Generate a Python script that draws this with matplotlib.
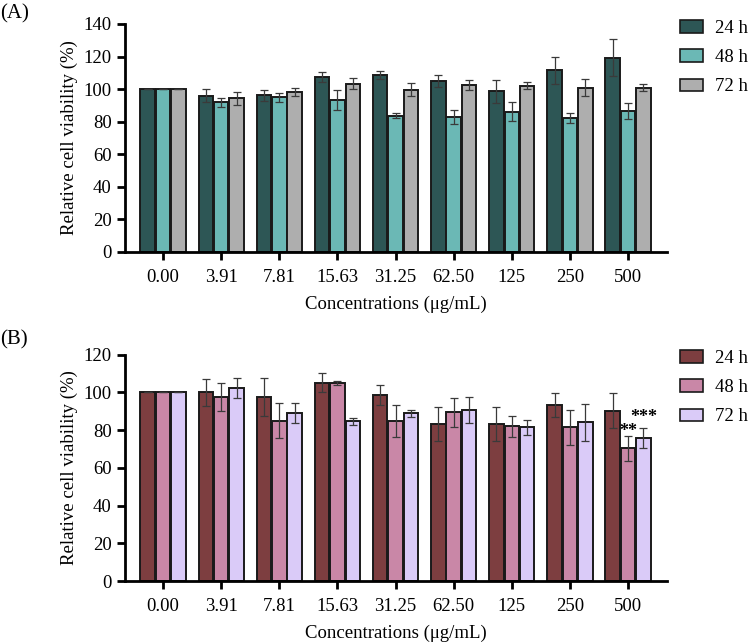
import matplotlib
matplotlib.use("Agg")
import matplotlib.pyplot as plt
import numpy as np
from matplotlib.patches import Patch

plt.rcParams['font.family'] = ['Liberation Serif', 'DejaVu Serif']

categories = ["0.00", "3.91", "7.81", "15.63", "31.25", "62.50", "125", "250", "500"]
series_names = ["24 h", "48 h", "72 h"]

# Panel A
a_24 = [100, 95.9, 96.3, 107.4, 108.7, 105.0, 98.6, 111.5, 119.2]
a_24_err = [0, 4.0, 3.3, 3.3, 2.5, 3.5, 6.9, 8.3, 11.3]
a_48 = [100, 92.0, 94.9, 93.2, 83.8, 83.1, 86.2, 82.5, 86.6]
a_48_err = [0, 2.7, 3.0, 6.3, 1.5, 4.4, 5.7, 3.0, 4.8]
a_72 = [100, 94.5, 98.0, 103.3, 99.6, 102.5, 102.1, 101.0, 101.0]
a_72_err = [0, 4.0, 2.5, 3.5, 4.0, 3.2, 2.3, 5.5, 2.3]

# Panel B
b_24 = [100, 100.0, 97.5, 105.1, 98.4, 83.5, 83.4, 93.5, 90.4]
b_24_err = [0, 7.0, 10.0, 5.0, 5.3, 9.0, 9.0, 6.4, 9.5]
b_48 = [100, 97.7, 85.0, 105.0, 84.8, 89.4, 82.0, 81.4, 70.4]
b_48_err = [0, 7.3, 9.2, 1.3, 8.6, 7.8, 5.5, 9.3, 6.7]
b_72 = [100, 102.1, 89.2, 84.6, 89.0, 90.8, 81.4, 84.1, 75.9]
b_72_err = [0, 5.3, 5.2, 2.0, 1.8, 6.8, 4.2, 10.0, 5.4]

colors_a = ["#2D5655", "#6BB8B5", "#AEAEAE"]
colors_b = ["#7D3E40", "#C987A7", "#DACBF8"]

# significance marks: (category index, series index, label, y)
sig_b = [(8, 1, "**", 79.5), (8, 2, "***", 86.5)]

W, H = 750, 642
fig = plt.figure(figsize=(W / 100, H / 100), dpi=100)

def make_panel(rect, vals, errs, colors, ymax, yticks, label, label_y, leg_y, sig=None):
    ax = fig.add_axes(rect)
    x = np.arange(len(categories))
    bw = 0.25
    offsets = [-bw - 0.015, 0, bw + 0.015]
    for i, (v, e, c) in enumerate(zip(vals, errs, colors)):
        ax.bar(x + offsets[i], v, width=bw, color=c, edgecolor="#1a1a1a", linewidth=1.4, zorder=2)
        ax.errorbar(x + offsets[i], v, yerr=e, fmt="none", ecolor="#3a3a3a",
                    elinewidth=0.9, capsize=3.2, capthick=0.9, zorder=3)
    ax.set_xlim(-0.655, 8.67)
    ax.set_ylim(0, ymax)
    ax.set_yticks(yticks)
    ax.set_xticks(x)
    ax.set_xticklabels(categories)
    for s in ["top", "right"]:
        ax.spines[s].set_visible(False)
    for s in ["left", "bottom"]:
        ax.spines[s].set_linewidth(2)
    ax.tick_params(axis="both", width=2, length=6, labelsize=13.5, direction="out")
    ax.tick_params(axis="x", pad=6)
    ax.set_ylabel("Relative cell viability (%)", fontsize=13.5, labelpad=4)
    ax.set_xlabel("Concentrations (\u03bcg/mL)", fontsize=13.5, labelpad=7)
    fig.text(0.0, label_y, label, fontsize=15, ha="left", va="center")
    handles = [Patch(facecolor=c, edgecolor="#1a1a1a", linewidth=1.2) for c in colors]
    ax.legend(handles, series_names, loc="upper left", bbox_to_anchor=(0.907, leg_y),
              bbox_transform=fig.transFigure, frameon=False, fontsize=13.5,
              handlelength=1.2, handleheight=0.65, handletextpad=0.65, labelspacing=0.65,
              borderaxespad=0, borderpad=0)
    if sig:
        for ci, si, txt, yv in sig:
            ax.text(ci + offsets[si], yv, txt, ha="center", va="center", fontsize=13, fontweight="bold")
    return ax

make_panel([125 / W, 1 - 252 / H, 542 / W, 228 / H],
           [a_24, a_48, a_72], [a_24_err, a_48_err, a_72_err], colors_a,
           140, range(0, 141, 20), "(A)", 1 - 14 / H, 1 - 20 / H)
make_panel([125 / W, 1 - 581 / H, 542 / W, 226.3 / H],
           [b_24, b_48, b_72], [b_24_err, b_48_err, b_72_err], colors_b,
           120, range(0, 121, 20), "(B)", 1 - 340 / H, 1 - 350 / H, sig=sig_b)

fig.savefig("out.png", dpi=100)
